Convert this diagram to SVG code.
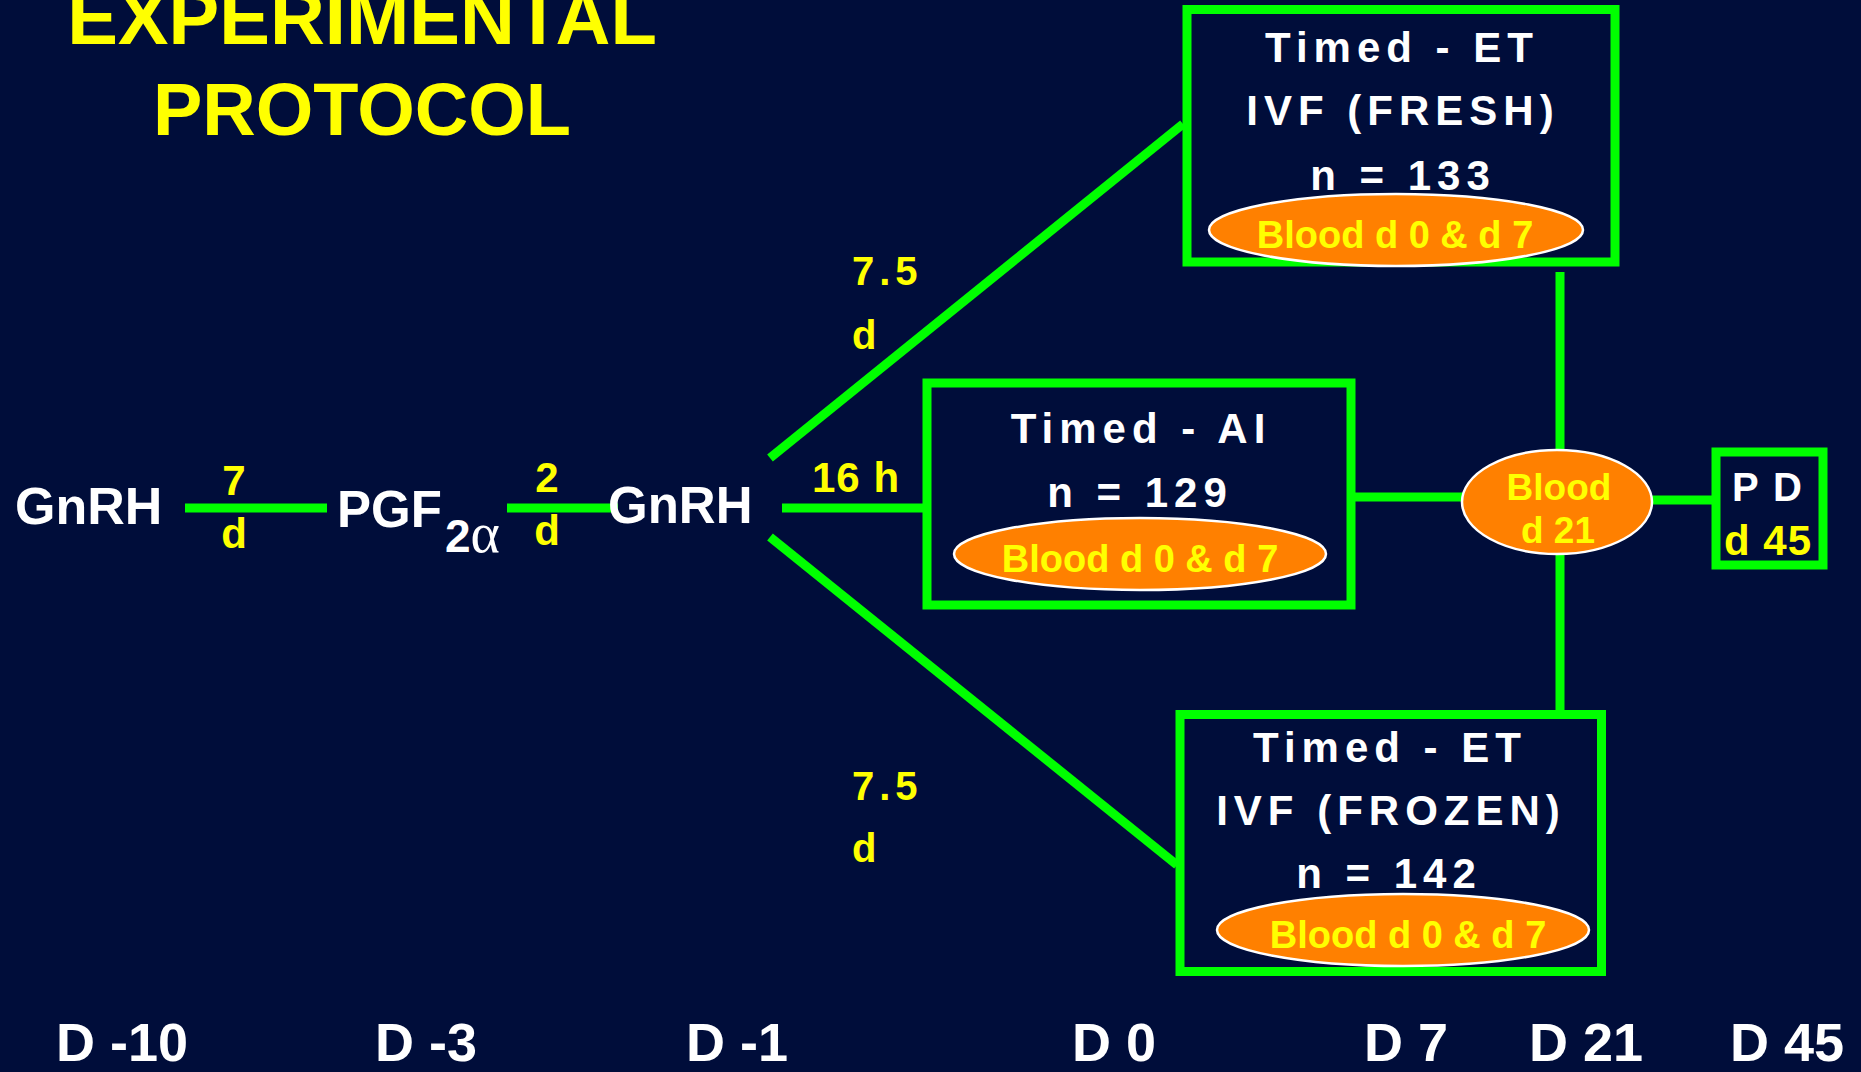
<svg xmlns="http://www.w3.org/2000/svg" width="1861" height="1072" viewBox="0 0 1861 1072">
<style>
text{font-family:"Liberation Sans",Arial,sans-serif;font-weight:bold}
.w{fill:#ffffff}
.y{fill:#ffff00}
.c{text-anchor:middle}
.ln{stroke:#00ff00;stroke-width:9;fill:none}
.bx{stroke:#00ff00;stroke-width:9;fill:none}
.ov{fill:#ff8000;stroke:#ffffff;stroke-width:2.5}
.bt{font-size:42px;letter-spacing:6px}
.bl{font-size:38px}
.ax{font-size:54px}
</style>
<rect x="0" y="0" width="1861" height="1072" fill="#000d3a"/>
<g id="title">
<text class="y c" x="362" y="44" font-size="76">EXPERIMENTAL</text>
<text class="y c" x="362" y="135" font-size="74">PROTOCOL</text>
</g>
<g id="connectors">
<line class="ln" x1="185" y1="508" x2="327" y2="508" stroke-width="8"/>
<line class="ln" x1="507" y1="508" x2="618" y2="508" stroke-width="8"/>
<line class="ln" x1="782" y1="508" x2="927" y2="508" stroke-width="8"/>
<line class="ln" x1="770" y1="458" x2="1183" y2="124"/>
<line class="ln" x1="770" y1="537" x2="1177" y2="865"/>
<line class="ln" x1="1355" y1="497" x2="1463" y2="497"/>
<line class="ln" x1="1652" y1="500" x2="1712" y2="500"/>
<line class="ln" x1="1560" y1="272" x2="1560" y2="451" stroke-width="10"/>
<line class="ln" x1="1560" y1="554" x2="1560" y2="714" stroke-width="10"/>
</g>
<g id="labels">
<text class="y c" x="234" y="495" font-size="42">7</text>
<text class="y c" x="234" y="548" font-size="42">d</text>
<text class="y c" x="547" y="492" font-size="42">2</text>
<text class="y c" x="547" y="545" font-size="42">d</text>
<text class="y" x="812" y="492" font-size="42" letter-spacing="1">16 h</text>
<text class="y" x="852" y="285" font-size="40" letter-spacing="5">7.5</text>
<text class="y" x="852" y="349" font-size="40">d</text>
<text class="y" x="852" y="800" font-size="40" letter-spacing="5">7.5</text>
<text class="y" x="852" y="862" font-size="40">d</text>
</g>
<g id="gnrh1">
<text class="w" x="15" y="524" font-size="52">GnRH</text>
</g>
<g id="pgf">
<text class="w" x="337" y="527" font-size="51">PGF</text>
<text class="w" x="445" y="552" font-size="46">2<tspan font-family="'Liberation Serif',serif" font-weight="normal" font-size="56">α</tspan></text>
</g>
<g id="gnrh2">
<text class="w" x="608" y="523" font-size="51">GnRH</text>
</g>
<g id="et-fresh">
<rect class="bx" x="1187" y="9.5" width="428" height="252.5"/>
<text class="w c bt" x="1402" y="62">Timed - ET</text>
<text class="w c bt" x="1403" y="125" letter-spacing="7.5">IVF (FRESH)</text>
<text class="w c bt" x="1403" y="190">n = 133</text>
<ellipse class="ov" cx="1396" cy="230" rx="187" ry="36"/>
<text class="y c bl" x="1395" y="248">Blood d 0 &amp; d 7</text>
</g>
<g id="ai">
<rect class="bx" x="927" y="383" width="424" height="222"/>
<text class="w c bt" x="1141" y="443">Timed - AI</text>
<text class="w c bt" x="1140" y="507">n = 129</text>
<ellipse class="ov" cx="1140" cy="554" rx="186" ry="36"/>
<text class="y c bl" x="1140" y="572">Blood d 0 &amp; d 7</text>
</g>
<g id="et-frozen">
<rect class="bx" x="1180" y="714.5" width="421.5" height="257"/>
<text class="w c bt" x="1390" y="762">Timed - ET</text>
<text class="w c bt" x="1391" y="825" letter-spacing="8">IVF (FROZEN)</text>
<text class="w c bt" x="1389" y="888">n = 142</text>
<ellipse class="ov" cx="1403" cy="930" rx="186" ry="36"/>
<text class="y c bl" x="1408" y="948">Blood d 0 &amp; d 7</text>
</g>
<g id="blood21">
<ellipse class="ov" cx="1557" cy="502" rx="95" ry="52"/>
<text class="y c" x="1559" y="500" font-size="37">Blood</text>
<text class="y c" x="1558" y="543" font-size="37">d 21</text>
</g>
<g id="pd">
<rect class="bx" x="1716" y="452" width="107" height="113"/>
<text class="w c" x="1768" y="501" font-size="40" letter-spacing="2">P D</text>
<text class="y c" x="1768" y="555" font-size="42" letter-spacing="1">d 45</text>
</g>
<g id="axis">
<text class="w c ax" x="122" y="1061">D -10</text>
<text class="w c ax" x="426" y="1061">D -3</text>
<text class="w c ax" x="737" y="1061">D -1</text>
<text class="w c ax" x="1114" y="1061">D 0</text>
<text class="w c ax" x="1406" y="1061">D 7</text>
<text class="w c ax" x="1586" y="1061">D 21</text>
<text class="w c ax" x="1787" y="1061">D 45</text>
</g>
</svg>
